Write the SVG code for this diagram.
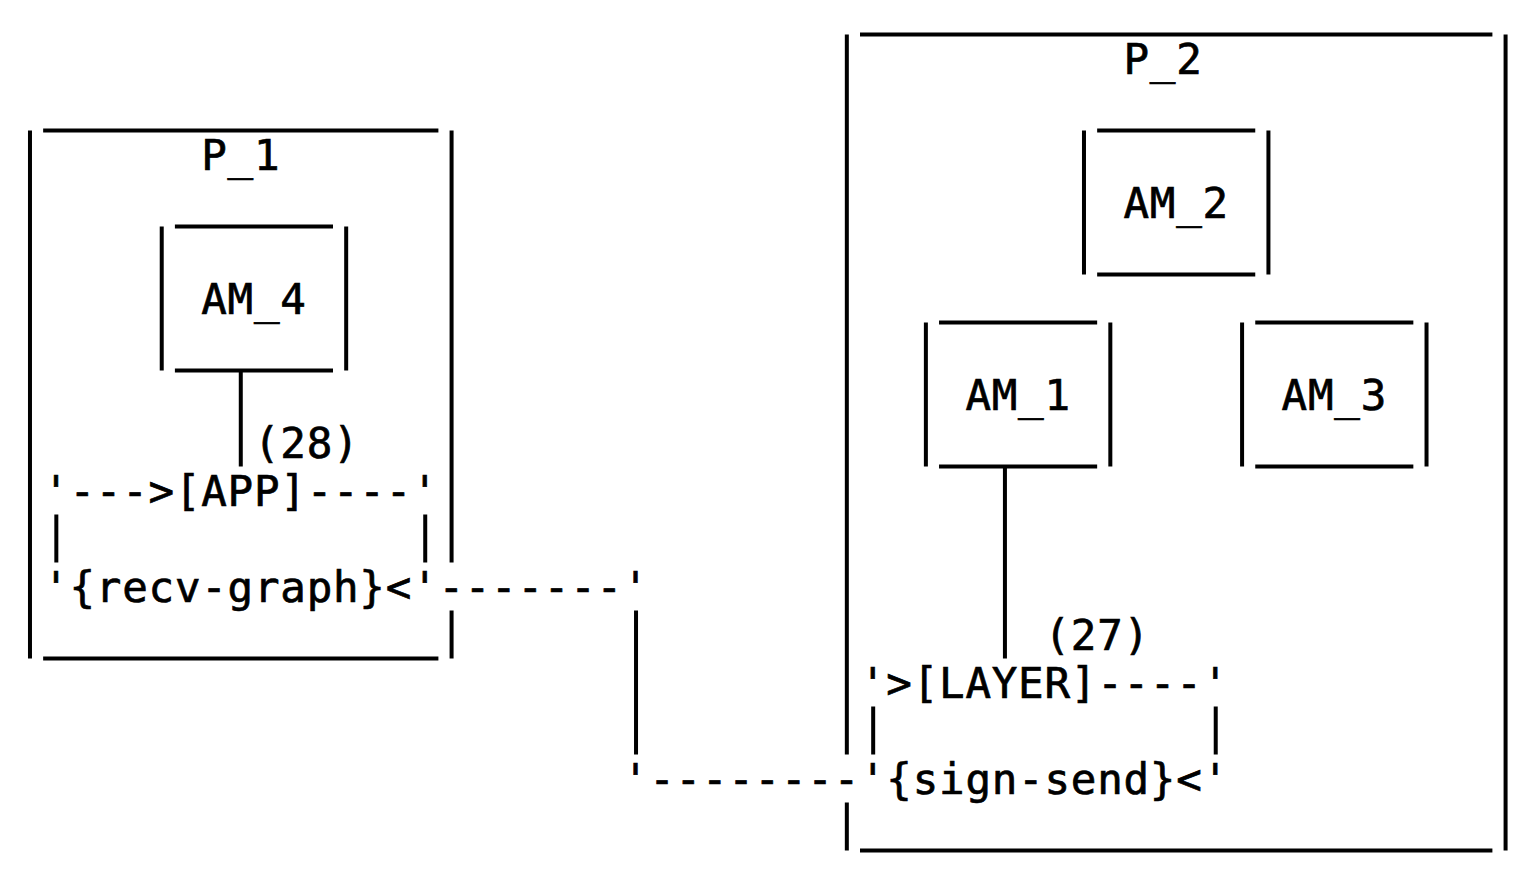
<svg xmlns="http://www.w3.org/2000/svg" width="1518" height="873" viewBox="0 0 1518 873">
<style>
.ln{stroke:#000;stroke-width:4;fill:none;stroke-linecap:butt}
.t{font-family:"DejaVu Sans Mono","Liberation Mono",monospace;font-size:42.5px;letter-spacing:0.764px;fill:#000;stroke:#000;stroke-width:0.7px}
</style>
<rect x="0" y="0" width="1518" height="873" fill="#fff"/>
<g id="P_1">
<path class="ln" d="M43.15 130.5H438.4 M43.15 658.5H438.4 M29.98 130.5V658.5 M451.58 130.5V562.5 M451.58 610.5V658.5"/>
<text class="t" x="201.25" y="170">P_1</text>
</g>
<g id="AM_4">
<path class="ln" d="M174.9 226.5H333 M174.9 370.5H333 M161.73 226.5V370.5 M346.18 226.5V370.5"/>
<text class="t" x="201.25" y="314">AM_4</text>
</g>
<g id="P_2">
<path class="ln" d="M860 34.5H1492.4 M860 850.5H1492.4 M846.83 34.5V754.5 M846.83 802.5V850.5 M1505.58 34.5V850.5"/>
<text class="t" x="1123.5" y="74">P_2</text>
</g>
<g id="AM_2">
<path class="ln" d="M1097.15 130.5H1255.25 M1097.15 274.5H1255.25 M1083.98 130.5V274.5 M1268.43 130.5V274.5"/>
<text class="t" x="1123.5" y="218">AM_2</text>
</g>
<g id="AM_1">
<path class="ln" d="M939.05 322.5H1097.15 M939.05 466.5H1097.15 M925.88 322.5V466.5 M1110.33 322.5V466.5"/>
<text class="t" x="965.4" y="410">AM_1</text>
</g>
<g id="AM_3">
<path class="ln" d="M1255.25 322.5H1413.35 M1255.25 466.5H1413.35 M1242.08 322.5V466.5 M1426.53 322.5V466.5"/>
<text class="t" x="1281.6" y="410">AM_3</text>
</g>
<g id="connectors">
<path class="ln" d="M240.78 370.5V466.5 M56.33 514.5V562.5 M425.23 514.5V562.5 M636.03 610.5V754.5 M1004.93 466.5V658.5 M873.18 706.5V754.5 M1215.73 706.5V754.5"/>
<text class="t" x="253.95" y="458">(28)</text>
<text class="t" x="43.15" y="506">'---&gt;[APP]----'</text>
<text class="t" x="43.15" y="602">'{recv-graph}&lt;'-------'</text>
<text class="t" x="1044.45" y="650">(27)</text>
<text class="t" x="860" y="698">'&gt;[LAYER]----'</text>
<text class="t" x="622.85" y="794">'--------'{sign-send}&lt;'</text>
</g>
</svg>
